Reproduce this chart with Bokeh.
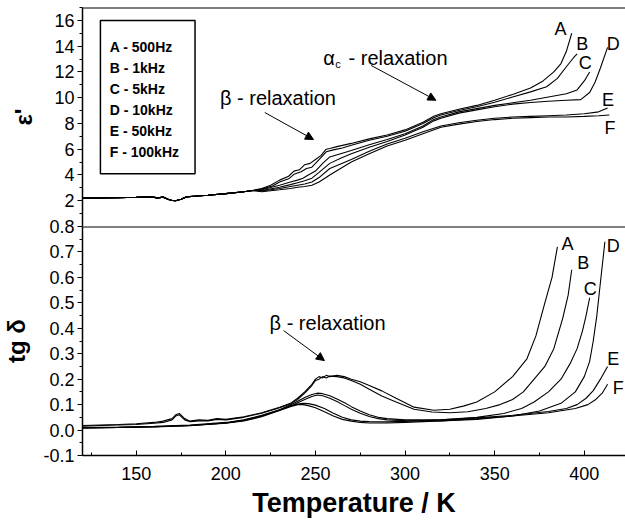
from bokeh.plotting import figure
from bokeh.models import (Range1d, FixedTicker, PrintfTickFormatter, Label, Arrow,
                          NormalHead, BoxAnnotation, Span)
from bokeh.layouts import column
from bokeh.embed import file_html
from bokeh.resources import INLINE

FONT = "Liberation Sans"

SERIES = ["A", "B", "C", "D", "E", "F"]
LEGEND_TEXT = ["A - 500Hz", "B - 1kHz", "C - 5kHz", "D - 10kHz", "E - 50kHz", "F - 100kHz"]

X_TICKS = [150, 200, 250, 300, 350, 400]
X_MINOR = [125, 175, 225, 275, 325, 375, 425]
EPS_TICKS = [2, 4, 6, 8, 10, 12, 14, 16]
EPS_MINOR = [1, 3, 5, 7, 9, 11, 13, 15, 17]
TG_TICKS = [-0.1, 0.0, 0.1, 0.2, 0.3, 0.4, 0.5, 0.6, 0.7, 0.8]
TG_MINOR = [-0.05, 0.05, 0.15, 0.25, 0.35, 0.45, 0.55, 0.65, 0.75]

# ---- epsilon' : shared low-temperature part ----
EPS_T_LOW = [120, 130, 140, 150, 158, 162, 165, 168, 170, 172, 175, 178, 182, 190, 200, 210, 215]
EPS_LOW = [2.2, 2.22, 2.24, 2.27, 2.3, 2.22, 2.28, 2.1, 2.02, 2.0, 2.12, 2.3, 2.35, 2.42, 2.55, 2.7, 2.8]

EPS_A_T = [220, 225, 230, 235, 238, 241, 244, 247, 250, 253, 256, 258, 262, 270, 280, 290, 300, 310, 316, 320,
           330, 340, 350, 360, 370, 377, 383, 387, 390, 393]
EPS_A = [2.95, 3.2, 3.6, 3.9, 4.3, 4.4, 4.8, 4.9, 5.2, 5.5, 6.0, 6.05, 6.2, 6.45, 6.8, 7.1, 7.5, 8.1, 8.55, 8.75,
         9.1, 9.4, 9.8, 10.25, 10.75, 11.3, 12.0, 12.65, 13.6, 15.0]
EPS_B_T = [220, 226, 230, 235, 238, 242, 245, 248, 252, 256, 260, 265, 270, 280, 290, 300, 310, 316, 320, 330,
           340, 350, 360, 370, 379, 385, 390, 394, 396]
EPS_B = [2.9, 3.15, 3.45, 3.7, 4.05, 4.25, 4.5, 4.6, 5.2, 5.8, 5.95, 6.1, 6.3, 6.7, 7.0, 7.4, 8.0, 8.45, 8.65, 9.0,
         9.3, 9.65, 10.05, 10.45, 10.85, 11.5, 12.4, 13.1, 13.4]
EPS_C_T = [220, 230, 236, 240, 243, 246, 250, 254, 258, 264, 270, 280, 290, 300, 310, 316, 320, 330, 340, 350,
           360, 370, 380, 390, 396, 400, 403]
EPS_C = [2.85, 3.2, 3.45, 3.6, 3.75, 4.0, 4.3, 4.9, 5.4, 5.65, 5.9, 6.35, 6.75, 7.2, 7.8, 8.3, 8.5, 8.9, 9.15, 9.4,
         9.6, 9.8, 10.05, 10.3, 10.6, 11.3, 12.0]
EPS_D_T = [220, 230, 236, 240, 244, 248, 252, 258, 264, 270, 280, 290, 300, 310, 316, 320, 330, 340, 350, 360,
           370, 380, 390, 398, 403, 406, 409, 413]
EPS_D = [2.8, 3.05, 3.25, 3.4, 3.55, 3.75, 4.2, 4.9, 5.3, 5.65, 6.15, 6.6, 7.1, 7.7, 8.2, 8.4, 8.8, 9.05, 9.3, 9.5,
         9.62, 9.72, 9.8, 9.85, 10.4, 11.2, 12.3, 13.9]
EPS_E_T = [220, 230, 236, 240, 244, 248, 252, 258, 264, 270, 280, 290, 300, 310, 320, 330, 340, 350, 360, 370,
           380, 390, 400, 408, 413]
EPS_E = [2.75, 2.95, 3.1, 3.2, 3.3, 3.45, 3.8, 4.5, 4.85, 5.2, 5.85, 6.4, 6.85, 7.35, 7.8, 8.05, 8.25, 8.4, 8.5, 8.55,
         8.6, 8.65, 8.75, 8.9, 9.2]
EPS_F_T = [220, 230, 236, 240, 244, 248, 252, 258, 264, 270, 280, 290, 300, 310, 320, 330, 340, 350, 360, 370,
           380, 390, 400, 408, 414]
EPS_F = [2.7, 2.85, 2.95, 3.05, 3.1, 3.2, 3.45, 4.0, 4.5, 5.0, 5.65, 6.25, 6.7, 7.2, 7.7, 7.95, 8.15, 8.3, 8.4, 8.45,
         8.5, 8.5, 8.55, 8.6, 8.65]

# ---- tg delta ----
TG_A_T = [120, 130, 140, 150, 160, 165, 170, 172, 174, 177, 180, 185, 190, 195, 200, 210, 220, 230, 236, 240,
          244, 248, 250, 252, 254, 256, 258, 262, 266, 270, 275, 280, 287, 295, 305, 316, 325, 333, 340, 350,
          360, 368, 373, 378, 382, 385]
TG_A = [0.018, 0.02, 0.022, 0.025, 0.03, 0.035, 0.045, 0.06, 0.065, 0.045, 0.035, 0.04, 0.038, 0.045, 0.042, 0.052,
        0.068, 0.09, 0.105, 0.125, 0.15, 0.18, 0.2, 0.21, 0.205, 0.215, 0.21, 0.215, 0.21, 0.2, 0.19, 0.175, 0.154,
        0.125, 0.09, 0.078, 0.082, 0.095, 0.11, 0.15, 0.21, 0.28, 0.37, 0.5, 0.6, 0.72]
TG_B_T = [120, 130, 140, 150, 160, 165, 170, 172, 174, 177, 180, 185, 190, 195, 200, 210, 220, 230, 236, 240,
          244, 248, 250, 252, 254, 256, 258, 262, 266, 270, 275, 280, 287, 295, 305, 315, 325, 335, 345, 353,
          360, 366, 372, 378, 383, 388, 391, 393]
TG_B = [0.015, 0.018, 0.02, 0.022, 0.027, 0.03, 0.04, 0.055, 0.06, 0.04, 0.033, 0.036, 0.036, 0.042, 0.04, 0.05,
        0.066, 0.088, 0.102, 0.12, 0.145, 0.175, 0.195, 0.2, 0.21, 0.205, 0.212, 0.21, 0.205, 0.195, 0.18, 0.16,
        0.134, 0.11, 0.082, 0.071, 0.068, 0.072, 0.085, 0.1, 0.12, 0.15, 0.2, 0.25, 0.32, 0.44, 0.53, 0.63]
TG_C_T = [120, 140, 160, 180, 200, 210, 220, 230, 238, 244, 248, 251, 254, 258, 262, 266, 270, 275, 280, 285,
          290, 300, 320, 340, 355, 365, 372, 380, 387, 392, 396, 399, 401, 403]
TG_C = [0.01, 0.012, 0.015, 0.02, 0.03, 0.04, 0.058, 0.08, 0.105, 0.128, 0.14, 0.145, 0.143, 0.135, 0.122, 0.108,
        0.092, 0.075, 0.06, 0.05, 0.045, 0.04, 0.04, 0.05, 0.065, 0.085, 0.11, 0.15, 0.2, 0.26, 0.32, 0.39, 0.45, 0.52]
TG_D_T = [120, 140, 160, 180, 200, 210, 220, 230, 238, 244, 248, 251, 254, 258, 262, 266, 270, 275, 280, 285,
          290, 300, 320, 340, 360, 375, 387, 395, 400, 403, 405, 407, 409, 411.5]
TG_D = [0.008, 0.01, 0.013, 0.018, 0.028, 0.038, 0.055, 0.078, 0.1, 0.12, 0.132, 0.138, 0.135, 0.125, 0.112, 0.097,
        0.082, 0.066, 0.053, 0.045, 0.04, 0.037, 0.036, 0.042, 0.055, 0.075, 0.105, 0.15, 0.21, 0.27, 0.35, 0.45,
        0.58, 0.74]
TG_E_T = [120, 140, 160, 180, 200, 210, 220, 230, 236, 240, 243, 246, 250, 255, 260, 265, 270, 275, 280, 290,
          300, 320, 340, 360, 380, 390, 396, 401, 405, 409, 413]
TG_E = [0.008, 0.01, 0.013, 0.018, 0.028, 0.038, 0.055, 0.08, 0.095, 0.102, 0.105, 0.104, 0.098, 0.085, 0.066, 0.05,
        0.04, 0.035, 0.033, 0.032, 0.034, 0.04, 0.048, 0.058, 0.073, 0.085, 0.1, 0.125, 0.155, 0.2, 0.25]
TG_F_T = [120, 140, 160, 180, 200, 210, 220, 230, 236, 240, 243, 246, 250, 255, 260, 265, 270, 275, 280, 290,
          300, 320, 340, 360, 380, 395, 402, 406, 410, 413]
TG_F = [0.008, 0.01, 0.012, 0.017, 0.027, 0.036, 0.052, 0.077, 0.092, 0.1, 0.1, 0.096, 0.088, 0.072, 0.055, 0.042,
        0.035, 0.03, 0.028, 0.028, 0.03, 0.036, 0.045, 0.055, 0.068, 0.085, 0.1, 0.118, 0.145, 0.18]

EPS_SERIES = [(EPS_A_T, EPS_A), (EPS_B_T, EPS_B), (EPS_C_T, EPS_C), (EPS_D_T, EPS_D), (EPS_E_T, EPS_E), (EPS_F_T, EPS_F)]
TG_SERIES = [(TG_A_T, TG_A), (TG_B_T, TG_B), (TG_C_T, TG_C), (TG_D_T, TG_D), (TG_E_T, TG_E), (TG_F_T, TG_F)]

# label anchors (data coordinates)
EPS_LABEL_POS = [(386.7, 15.3), (398.9, 14.2), (400.6, 12.7), (416.1, 14.2), (413.3, 9.8), (414.4, 7.65)]
TG_LABEL_POS = [(390.6, 0.733), (399.4, 0.655), (403.3, 0.556), (416.1, 0.725), (416.1, 0.281), (418.9, 0.167)]

x_range = Range1d(120, 423)


def style_common(p):
    p.outline_line_color = None
    p.xgrid.grid_line_color = None
    p.ygrid.grid_line_color = None
    p.background_fill_color = None
    p.border_fill_color = None
    for ax in p.yaxis:
        ax.axis_line_color = "black"
        ax.axis_line_width = 1.5
        ax.major_tick_in = 0
        ax.major_tick_out = 5
        ax.minor_tick_in = 0
        ax.minor_tick_out = 3
        ax.major_tick_line_color = "black"
        ax.minor_tick_line_color = "black"
        ax.major_label_text_font = FONT
        ax.major_label_text_font_size = "18px"
        ax.major_label_text_color = "black"
        ax.major_label_standoff = 3
        ax.axis_label_text_font = FONT
        ax.axis_label_text_font_style = "bold"
        ax.axis_label_text_font_size = "24px"
        ax.axis_label_text_color = "black"


# ---------------- top panel ----------------
top = figure(width=625, height=226, x_range=x_range, y_range=Range1d(0, 17),
             output_backend="svg", toolbar_location=None, x_axis_location=None,
             min_border_left=80, min_border_right=0, min_border_top=7, min_border_bottom=0)
style_common(top)
top.yaxis.ticker = FixedTicker(ticks=EPS_TICKS, minor_ticks=EPS_MINOR)
top.yaxis.axis_label = "ε'"
top.yaxis.axis_label_standoff = 14
top.add_layout(Span(location=17, dimension="width", line_color="black", line_width=2))

for (t, v) in EPS_SERIES:
    top.line(EPS_T_LOW + t, EPS_LOW + v, line_color="black", line_width=1.1)

for name, (lx, ly) in zip(SERIES, EPS_LABEL_POS):
    top.add_layout(Label(x=lx, y=ly, text=name, text_font=FONT, text_font_size="18px",
                         text_align="center", text_baseline="middle", text_color="black"))

# legend box
top.add_layout(BoxAnnotation(left=130, right=182.8, bottom=4.1, top=16.0,
                             fill_color=None, fill_alpha=0, line_color="black", line_alpha=1.0,
                             line_width=1.5))
for i, txt in enumerate(LEGEND_TEXT):
    top.add_layout(Label(x=135.2, y=13.95 - i * 1.63, text=txt, text_font=FONT, text_font_size="14px",
                         text_font_style="bold", text_baseline="middle", text_color="black"))

# beta relaxation annotation (top)
top.add_layout(Label(x=196.7, y=9.95, text="β - relaxation", text_font=FONT, text_font_size="20px",
                     text_baseline="middle", text_color="black"))
top.add_layout(Arrow(end=NormalHead(size=8, fill_color="black", line_color="black"),
                     x_start=221.7, y_start=8.85, x_end=248.9, y_end=6.75, line_width=1, line_color="black"))
# alpha_c relaxation annotation
top.add_layout(Label(x=254.4, y=13.1, text="α", text_font=FONT, text_font_size="20px",
                     text_baseline="middle", text_color="black"))
top.add_layout(Label(x=261.0, y=12.65, text="c", text_font=FONT, text_font_size="11px",
                     text_baseline="middle", text_color="black"))
top.add_layout(Label(x=268.5, y=13.1, text="- relaxation", text_font=FONT, text_font_size="20px",
                     text_baseline="middle", text_color="black"))
top.add_layout(Arrow(end=NormalHead(size=8, fill_color="black", line_color="black"),
                     x_start=281.1, y_start=12.5, x_end=317.2, y_end=9.8, line_width=1, line_color="black"))

# ---------------- bottom panel ----------------
bot = figure(width=625, height=309, x_range=x_range, y_range=Range1d(-0.1, 0.8),
             output_backend="svg", toolbar_location=None,
             min_border_left=80, min_border_right=0, min_border_top=12, min_border_bottom=68,
             margin=(-12, 0, 0, 0))
style_common(bot)
bot.yaxis.ticker = FixedTicker(ticks=TG_TICKS, minor_ticks=TG_MINOR)
bot.yaxis.formatter = PrintfTickFormatter(format="%.1f")
bot.yaxis.axis_label = "tg δ"
bot.yaxis.axis_label_standoff = 10
xa = bot.xaxis[0]
xa.ticker = FixedTicker(ticks=X_TICKS, minor_ticks=X_MINOR)
xa.axis_line_color = "black"
xa.axis_line_width = 1.5
xa.major_tick_in = 5
xa.major_tick_out = 0
xa.minor_tick_in = 3
xa.minor_tick_out = 0
xa.major_tick_line_color = "black"
xa.minor_tick_line_color = "black"
xa.major_label_text_font = FONT
xa.major_label_text_font_size = "18px"
xa.major_label_text_color = "black"
xa.major_label_standoff = 11
xa.axis_label = "Temperature / K"
xa.axis_label_text_font = FONT
xa.axis_label_text_font_style = "bold"
xa.axis_label_text_font_size = "27px"
xa.axis_label_text_color = "black"
xa.axis_label_standoff = 5
bot.add_layout(Span(location=0.8, dimension="width", line_color="black", line_width=2))

for (t, v) in TG_SERIES:
    bot.line(t, v, line_color="black", line_width=1.1)

for name, (lx, ly) in zip(SERIES, TG_LABEL_POS):
    bot.add_layout(Label(x=lx, y=ly, text=name, text_font=FONT, text_font_size="18px",
                         text_align="center", text_baseline="middle", text_color="black"))

bot.add_layout(Label(x=224.4, y=0.419, text="β - relaxation", text_font=FONT, text_font_size="20px",
                     text_baseline="middle", text_color="black"))
bot.add_layout(Arrow(end=NormalHead(size=8, fill_color="black", line_color="black"),
                     x_start=232.2, y_start=0.391, x_end=255.0, y_end=0.273, line_width=1, line_color="black"))

layout = column(top, bot)
open("out.html", "w").write(file_html(layout, INLINE))
